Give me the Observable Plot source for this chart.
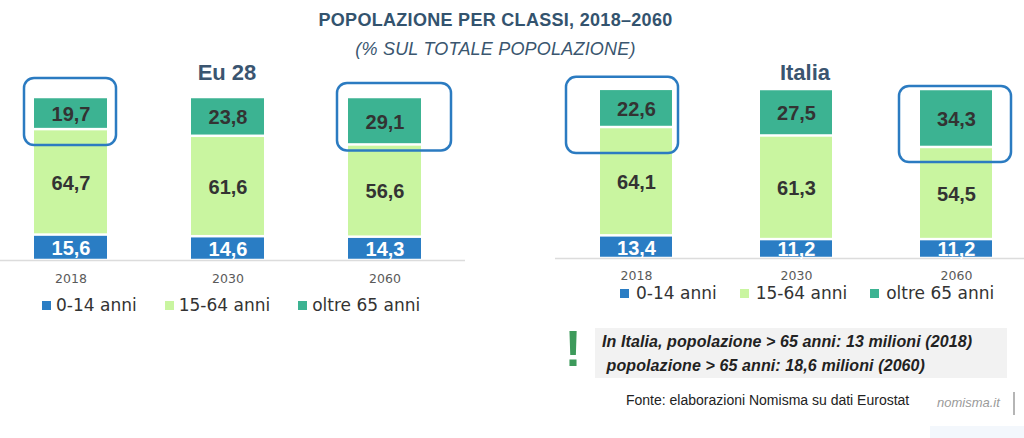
<!DOCTYPE html>
<html>
<head>
<meta charset="utf-8">
<script src="https://cdn.jsdelivr.net/npm/d3@7"></script>
<script src="https://cdn.jsdelivr.net/npm/@observablehq/plot@0.6"></script>
<style>
  html, body { margin: 0; padding: 0; background: #fff; }
  body { width: 1024px; height: 438px; overflow: hidden; position: relative; font-family: "Liberation Sans", Arial, sans-serif; }
  .abs { position: absolute; white-space: nowrap; }
  #title { left: 0; width: 991px; top: 11px; text-align: center; font-size: 18px; line-height: 18px; font-weight: bold; color: #33536e; letter-spacing: 0.3px; }
  #subtitle { left: 0; width: 991px; top: 40px; text-align: center; font-size: 18px; line-height: 18px; font-style: italic; color: #3a566f; letter-spacing: 0.2px; }
  .ptitle { font-size: 22px; line-height: 22px; font-weight: bold; color: #3a5570; width: 200px; text-align: center; top: 62px; }
  .legend { display: flex; align-items: center; height: 20px; font-family: "DejaVu Sans", sans-serif; font-size: 17px; line-height: 20px; color: #333; }
  .legend .sw { width: 9px; height: 9px; display: inline-block; }
  .legend .item { display: flex; align-items: center; }
  #note { left: 595px; top: 328px; width: 412px; height: 50px; background: #f2f2f2; }
  .noteline { font-size: 16px; line-height: 18px; font-weight: bold; font-style: italic; color: #222; letter-spacing: 0.1px; }
  #bang { left: 560px; top: 324px; width: 26px; text-align: center; font-size: 50px; line-height: 50px; font-weight: bold; color: #3d9a5b; }
  #source { left: 626px; top: 393px; font-size: 14px; line-height: 15px; color: #222; }
  #brand { left: 937px; top: 395px; font-size: 13px; line-height: 15px; font-style: italic; color: #9a9a9a; }
  #brandbar { left: 1013px; top: 392px; width: 1.5px; height: 23px; background: #b5b5b5; }
  #wm { left: 930px; top: 426px; width: 94px; height: 12px; background: #f3f7fc; }
  .plotbox { position: absolute; }
  .plotbox svg { max-width: none !important; overflow: visible; }
</style>
</head>
<body>
<div id="title" class="abs">POPOLAZIONE PER CLASSI, 2018–2060</div>
<div id="subtitle" class="abs">(% SUL TOTALE POPOLAZIONE)</div>
<div class="abs ptitle" style="left:127px">Eu 28</div>
<div class="abs ptitle" style="left:705px">Italia</div>
<div id="left" class="plotbox" style="left:0px; top:60px"></div>
<div id="right" class="plotbox" style="left:555px; top:60px"></div>
<div id="legendL" class="abs legend" style="left:42px; top:295px"></div>
<div id="legendR" class="abs legend" style="left:620px; top:283px"></div>
<div id="note" class="abs"></div>
<div id="bang" class="abs">!</div>
<div class="abs noteline" style="left:602px; top:333px">In Italia, popolazione &gt; 65 anni: 13 milioni (2018)</div>
<div class="abs noteline" style="left:602px; top:357px">&nbsp;popolazione &gt; 65 anni: 18,6 milioni (2060)</div>
<div id="source" class="abs">Fonte: elaborazioni Nomisma su dati Eurostat</div>
<div id="brand" class="abs">nomisma.it</div>
<div id="brandbar" class="abs"></div>
<div id="wm" class="abs"></div>
<script>
// ---- Data ----
const years = ["2018", "2030", "2060"];
const classes = ["0-14 anni", "15-64 anni", "oltre 65 anni"];
const classColors = ["#2a7dc4", "#c9f5a0", "#3cb392"];
const eu0_14 = [15.6, 14.6, 14.3];
const eu15_64 = [64.7, 61.6, 56.6];
const eu65 = [19.7, 23.8, 29.1];
const it0_14 = [13.4, 11.2, 11.2];
const it15_64 = [64.1, 61.3, 54.5];
const it65 = [22.6, 27.5, 34.3];

// ---- Build tables ----
function buildRows(series) {
  const rows = [];
  years.forEach((year, i) => {
    let acc = 0;
    series.forEach((vals, j) => {
      const v = vals[i];
      rows.push({year, cls: classes[j], value: v, y1: acc, y2: acc + v, mid: acc + v / 2});
      acc += v;
    });
  });
  return rows;
}
const euRows = buildRows([eu0_14, eu15_64, eu65]);
const itRows = buildRows([it0_14, it15_64, it65]);
const fmt = v => v.toFixed(1).replace(".", ",");

const box = (rows, year, ins) => Plot.barY(
  rows.filter(d => d.cls === classes[2] && d.year === year),
  {x: "year", y1: "y1", y2: "y2", fill: "none", stroke: "#2b7bc1", strokeWidth: 2.5, rx: 10, ...ins}
);

function panel(rows, cfg, boxes) {
  return Plot.plot({
    width: cfg.width, height: cfg.height,
    marginTop: cfg.mt, marginBottom: cfg.mb, marginLeft: 0, marginRight: 0,
    style: {fontFamily: "DejaVu Sans, sans-serif", fontSize: "12.5px", color: "#5a5a5a", background: "transparent"},
    x: {domain: years, range: cfg.xRange, paddingInner: cfg.pad, paddingOuter: 0, tickSize: 0, tickPadding: cfg.tickPad, label: null},
    y: {domain: [0, 100], axis: null},
    color: {domain: classes, range: classColors},
    marks: [
      Plot.ruleY([0], {stroke: "#dcdcdc", strokeWidth: 1.5}),
      Plot.barY(rows, {x: "year", y1: "y1", y2: "y2", fill: "cls", insetTop: 1.25, insetBottom: 1.25}),
      Plot.text(rows, {filter: d => d.cls === classes[0], x: "year", y: "mid", text: d => fmt(d.value), fill: "white", fontWeight: "bold", fontSize: 20, fontFamily: "Liberation Sans, Arial, sans-serif", dy: 1}),
      Plot.text(rows, {filter: d => d.cls !== classes[0], x: "year", y: "mid", text: d => fmt(d.value), fill: "#333", fontWeight: "bold", fontSize: 20, fontFamily: "Liberation Sans, Arial, sans-serif", dy: 1}),
      ...boxes
    ]
  });
}

const left = panel(euRows,
  {width: 465, height: 240, mt: 37, mb: 40, xRange: [33, 421.7], pad: 0.538, tickPad: 14},
  [box(euRows, "2018", {insetLeft: -10, insetRight: -9, insetTop: -19, insetBottom: -16}),
   box(euRows, "2060", {insetLeft: -11, insetRight: -30, insetTop: -14, insetBottom: -6})]);
document.getElementById("left").appendChild(left);

const right = panel(itRows,
  {width: 469, height: 240, mt: 29, mb: 42, xRange: [44, 438.9], pad: 0.547, tickPad: 13},
  [box(itRows, "2018", {insetLeft: -34, insetRight: -6, insetTop: -12, insetBottom: -26}),
   box(itRows, "2060", {insetLeft: -21, insetRight: -19, insetTop: -3, insetBottom: -15})]);
document.getElementById("right").appendChild(right);

// ---- Legends ----
function legend(el, swGap, itemGap) {
  classes.forEach((c, i) => {
    const item = document.createElement("span");
    item.className = "item";
    if (i < classes.length - 1) item.style.marginRight = itemGap + "px";
    const sw = document.createElement("span");
    sw.className = "sw";
    sw.style.background = classColors[i];
    sw.style.marginRight = swGap + "px";
    item.appendChild(sw);
    item.appendChild(document.createTextNode(c));
    el.appendChild(item);
  });
}
legend(document.getElementById("legendL"), 5, 28);
legend(document.getElementById("legendR"), 7, 23);
</script>
</body>
</html>
